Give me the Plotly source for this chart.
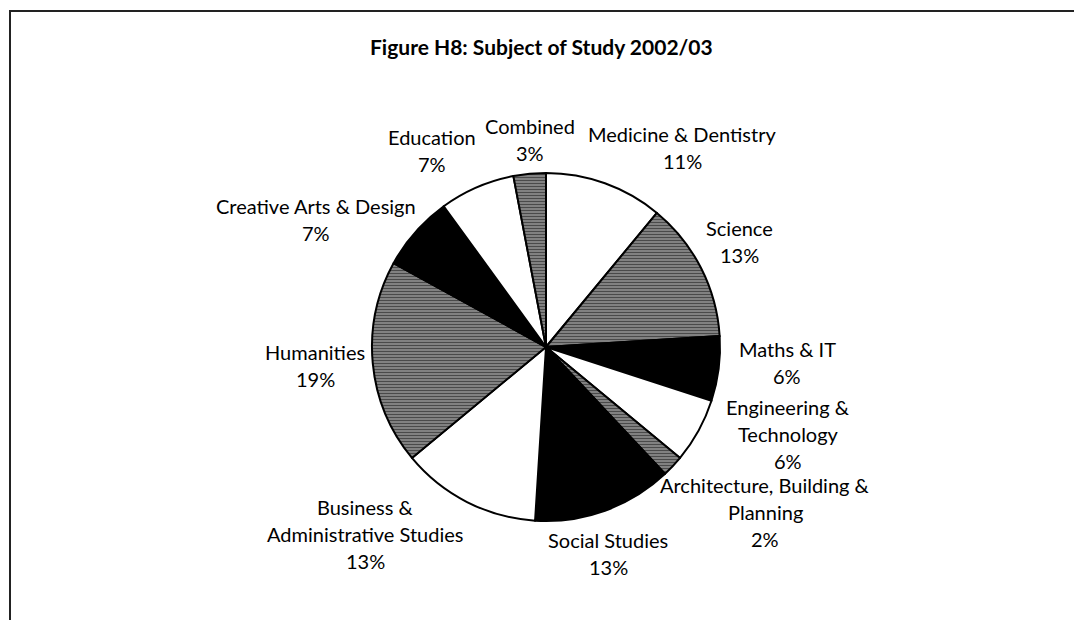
import plotly.graph_objects as go

W, H = 1082, 620
OFF = 8  # page body margin offset compensation

# ---- data ----
categories = [
    "Medicine & Dentistry", "Science", "Maths & IT", "Engineering & Technology",
    "Architecture, Building & Planning", "Social Studies",
    "Business & Administrative Studies", "Humanities", "Creative Arts & Design",
    "Education", "Combined",
]
values = [11, 13, 6, 6, 2, 13, 13, 19, 7, 7, 3]
label_lines = [
    ["Medicine & Dentistry"], ["Science"], ["Maths & IT"],
    ["Engineering &", "Technology"], ["Architecture, Building &", "Planning"],
    ["Social Studies"], ["Business &", "Administrative Studies"],
    ["Humanities"], ["Creative Arts & Design"], ["Education"], ["Combined"],
]

# ---- styles ----
fill_colors = ["white", "#8c8c8c", "black", "white", "#8c8c8c", "black",
               "white", "#8c8c8c", "black", "white", "#8c8c8c"]
pattern_shapes = ["", "-", "", "", "-", "", "", "-", "", "", "-"]

# label positions (screen pixel centre of first line) - layout only
label_pos = [
    (682, 134), (739, 228), (787, 349), (788, 407), (765, 485), (608, 540),
    (365, 507), (315, 352), (316, 206), (432, 137), (530, 126),
]
LINE_STEP = 27

cx, cy, R = 546 - OFF, 347 - OFF, 174


def px_x(x):
    return (x - OFF) / W


def px_y(y):
    return 1 - (y - OFF) / H


fig = go.Figure(go.Pie(
    labels=categories, values=values, sort=False, direction="clockwise",
    rotation=0, textinfo="none", hoverinfo="label+percent",
    marker=dict(
        colors=fill_colors,
        line=dict(color="black", width=2),
        pattern=dict(shape=pattern_shapes, fgcolor="#4a4a4a", bgcolor=fill_colors,
                     size=3, solidity=0.45, fillmode="replace"),
    ),
    domain=dict(x=[(cx - R) / W, (cx + R) / W], y=[(H - cy - R) / H, (H - cy + R) / H]),
    showlegend=False,
))

total = sum(values)
font = dict(family="Lato, Open Sans, sans-serif", size=20, color="black")
annotations = []
for lines, v, (px, py) in zip(label_lines, values, label_pos):
    all_lines = lines + [f"{round(100 * v / total)}%"]
    for i, t in enumerate(all_lines):
        annotations.append(dict(
            text=t, xref="paper", yref="paper",
            x=px_x(px), y=px_y(py + i * LINE_STEP),
            xanchor="center", yanchor="middle", showarrow=False, font=font,
        ))

annotations.append(dict(
    text="<b>Figure H8: Subject of Study 2002/03</b>", xref="paper", yref="paper",
    x=px_x(541), y=px_y(47), xanchor="center", yanchor="middle", showarrow=False,
    font=dict(family="Lato, Open Sans, sans-serif", size=21, color="black"),
))

fig.update_layout(
    width=W, height=H, margin=dict(l=0, r=0, t=0, b=0),
    paper_bgcolor="white", plot_bgcolor="white",
    annotations=annotations,
    shapes=[dict(type="rect", xref="paper", yref="paper",
                 x0=px_x(10), x1=1.05, y0=-0.05, y1=px_y(11),
                 line=dict(color="#222222", width=2), fillcolor="rgba(0,0,0,0)")],
)

fig.write_html("out.html")
